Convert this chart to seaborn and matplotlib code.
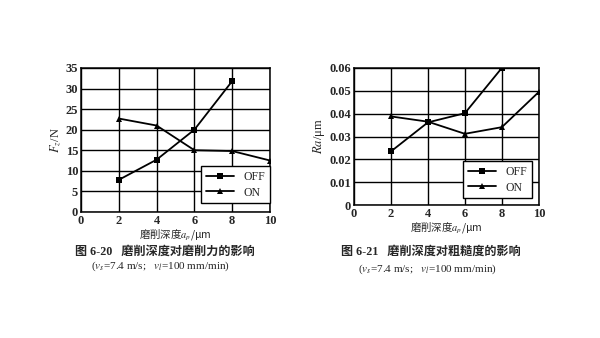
import matplotlib
matplotlib.use("Agg")
import matplotlib.pyplot as plt
import seaborn as sns
import pandas as pd

# data
depth_off = [2, 4, 6, 8]
depth_on = [2, 4, 6, 8, 10]
force_off = [7.8, 12.7, 20.0, 31.8]
force_on = [22.7, 21.0, 15.0, 14.8, 12.5]
ra_off = [0.0235, 0.0362, 0.0402, 0.0600]
ra_on = [0.0388, 0.0365, 0.0312, 0.0341, 0.0495]
x_ticks = [0, 2, 4, 6, 8, 10]
f_ticks = [0, 5, 10, 15, 20, 25, 30, 35]
ra_ticks = [0, 0.01, 0.02, 0.03, 0.04, 0.05, 0.06]
ra_tick_labels = ["0", "0.01", "0.02", "0.03", "0.04", "0.05", "0.06"]
series_names = ["OFF", "ON"]

sns.set_theme(style="white")
plt.rcParams['font.family'] = ['Liberation Serif', 'Noto Sans CJK SC']
plt.rcParams['mathtext.fontset'] = 'stix'

fig = plt.figure(figsize=(6, 3.38), dpi=100)
ax1 = fig.add_axes([0.135, 0.373, 0.315, 0.426])
ax2 = fig.add_axes([0.59, 0.393, 0.308, 0.406])

df_f = pd.concat([
    pd.DataFrame({"x": depth_off, "y": force_off, "s": series_names[0]}),
    pd.DataFrame({"x": depth_on, "y": force_on, "s": series_names[1]}),
])
df_r = pd.concat([
    pd.DataFrame({"x": depth_off, "y": ra_off, "s": series_names[0]}),
    pd.DataFrame({"x": depth_on, "y": ra_on, "s": series_names[1]}),
])

for ax, df, yt, ytl, ylim, ylabel, xlp, leg_anchor in [
    (ax1, df_f, f_ticks, [str(t) for t in f_ticks], (0, 35), r'$F_z$/N', 0.5, (1.0, 0.06)),
    (ax2, df_r, ra_ticks, ra_tick_labels, (0, 0.06), r'$Ra$/μm', 0, (0.962, 0.05)),
]:
    sns.lineplot(data=df, x="x", y="y", hue="s", style="s",
                 markers={"OFF": "s", "ON": "^"}, dashes=False,
                 palette={"OFF": "black", "ON": "black"},
                 markersize=4, markeredgewidth=0, linewidth=1.3, ax=ax, legend=True)
    ax.set_xlim(0, 10)
    ax.set_ylim(*ylim)
    ax.set_xticks(x_ticks)
    ax.set_xticklabels([str(t) for t in x_ticks], fontweight='bold', fontsize=9)
    ax.set_yticks(yt)
    ax.set_yticklabels(ytl, fontweight='bold', fontsize=9)
    ax.grid(True, color='black', linewidth=1.0)
    for sp in ax.spines.values():
        sp.set_color('black')
        sp.set_linewidth(1.1)
    ax.tick_params(length=0, pad=2)
    ax.set_xlabel('磨削深度$a_p$/μm', fontsize=7.5, labelpad=xlp,
                  fontfamily='Noto Sans CJK SC')
    ax.set_ylabel(ylabel, fontsize=9, labelpad=2)
    leg = ax.legend(loc='lower right', bbox_to_anchor=leg_anchor, borderaxespad=0,
                    fontsize=8.5, frameon=True, fancybox=False,
                    edgecolor='black', framealpha=1, handlelength=2.4,
                    borderpad=0.4, labelspacing=0.3)
    leg.get_frame().set_linewidth(1.0)

fig.text(0.275, 0.254, '图 6-20   磨削深度对磨削力的影响', ha='center', va='center',
         fontsize=8.7, fontweight='bold')
fig.text(0.268, 0.212, r'($v_s$=7.4 m/s;   $v_l$=100 mm/min)', ha='center', va='center', fontsize=8)
fig.text(0.718, 0.254, '图 6-21   磨削深度对粗糙度的影响', ha='center', va='center',
         fontsize=8.7, fontweight='bold')
fig.text(0.713, 0.204, r'($v_s$=7.4 m/s;   $v_l$=100 mm/min)', ha='center', va='center', fontsize=8)

fig.savefig("out.png", dpi=100, facecolor='white')
